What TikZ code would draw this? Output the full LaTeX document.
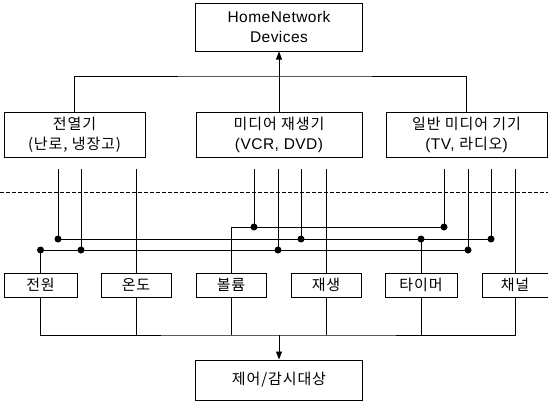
\documentclass[tikz,border=0pt]{standalone}
\usepackage{fontspec}
\setmainfont[LetterSpace=3]{Liberation Sans}
\newfontfamily\kr[LetterSpace=6]{Noto Sans CJK KR}
\usetikzlibrary{arrows.meta}
\begin{document}
\begin{tikzpicture}[x=1pt,y=-1pt,
  box/.style={draw,line width=1pt,inner sep=0pt,align=center,font=\kr\fontsize{15}{20}\selectfont},
  lbox/.style={box,font=\rmfamily\fontsize{15.5}{20}\selectfont},
  wire/.style={line width=0.9pt},
  dashline/.style={line width=0.9pt,dash pattern=on 4pt off 2pt},
  arr/.style={wire,-{Triangle[length=8pt,width=6pt]}}]
\useasboundingbox (0,0) rectangle (548,405);
% top
\node[lbox,minimum width=167pt,minimum height=48pt] (T) at (279,27) {HomeNetwork\\Devices};
\node[box,minimum width=141pt,minimum height=45pt] (A) at (74.5,134.5) {전열기\\(난로, 냉장고)};
\node[box,minimum width=166pt,minimum height=45pt] (B) at (279,134.5) {미디어 재생기\\\rmfamily\fontsize{15.5}{20}\selectfont (VCR, DVD)};
\node[box,minimum width=161pt,minimum height=45pt] (C) at (466.5,134.5) {일반 미디어 기기\\\rmfamily\fontsize{15.5}{20}\selectfont (TV, {\kr\fontsize{15}{20}\selectfont 라디오})};
% bottom row
\node[box,minimum width=73pt,minimum height=24pt] (P1) at (40.5,285) {전원};
\node[box,minimum width=70pt,minimum height=24pt] (P2) at (136,285) {온도};
\node[box,minimum width=70pt,minimum height=24pt] (P3) at (231,285) {볼륨};
\node[box,minimum width=70pt,minimum height=24pt] (P4) at (326,285) {재생};
\node[box,minimum width=72pt,minimum height=24pt] (P5) at (421,285) {타이머};
\node[box,minimum width=66pt,minimum height=24pt] (P6) at (515,285) {채널};
\node[box,minimum width=167pt,minimum height=40pt] (D) at (279,380) {제어/감시대상};
% top connectors
\coordinate (hl) at (279,76);
\draw[wire] (A.north) |- (hl) -| (C.north);
\draw[arr] (B.north) -- (T.south);
% dashed line
\coordinate (dl) at (0,192);
\coordinate (dr) at (548,192);
\draw[dashline] (dl) -- (dr);
% signal line starts
\coordinate (s1) at (58,169);
\coordinate (s2) at (81,169);
\coordinate (s3) at (P2.north |- 0,169);
\coordinate (s4) at (254,169);
\coordinate (s5) at (278,169);
\coordinate (s6) at (301,169);
\coordinate (s7) at (P4.north |- 0,169);
\coordinate (s8) at (444,169);
\coordinate (s9) at (468,169);
\coordinate (s10) at (491,169);
\coordinate (s11) at (P6.north |- 0,169);
\coordinate (y1) at (0,227);
\coordinate (y2) at (0,239);
\coordinate (y3) at (0,250);
% straight lines
\draw[wire] (s3) -- (P2.north);
\draw[wire] (s7) -- (P4.north);
\draw[wire] (s11) -- (P6.north);
% bus 1
\draw[wire] (P3.north) |- (s8 |- y1) -- (s8);
\draw[wire] (s4) -- (s4 |- y1);
\fill (s4 |- y1) circle (3.5pt);
\fill (s8 |- y1) circle (3.5pt);
% bus 2
\draw[wire] (s1) |- (s10 |- y2) -- (s10);
\draw[wire] (s6) -- (s6 |- y2);
\draw[wire] (P5.north) -- (P5.north |- y2);
\fill (s1 |- y2) circle (3.5pt);
\fill (s6 |- y2) circle (3.5pt);
\fill (P5.north |- y2) circle (3.5pt);
\fill (s10 |- y2) circle (3.5pt);
% bus 3
\draw[wire] (P1.north) |- (s9 |- y3) -- (s9);
\draw[wire] (s2) -- (s2 |- y3);
\draw[wire] (s5) -- (s5 |- y3);
\fill (P1.north |- y3) circle (3.5pt);
\fill (s2 |- y3) circle (3.5pt);
\fill (s5 |- y3) circle (3.5pt);
\fill (s9 |- y3) circle (3.5pt);
% bottom bus
\coordinate (bb) at (279,335);
\draw[wire] (P1.south) |- (bb) -| (P6.south);
\draw[wire] (P2.south) -- (P2.south |- bb);
\draw[wire] (P3.south) -- (P3.south |- bb);
\draw[wire] (P4.south) -- (P4.south |- bb);
\draw[wire] (P5.south) -- (P5.south |- bb);
\draw[arr] (bb) -- (D.north);
\end{tikzpicture}
\end{document}
